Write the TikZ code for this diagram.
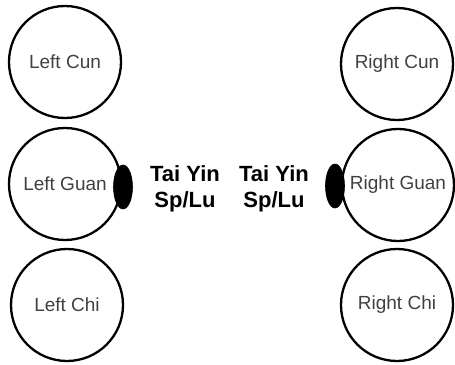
\documentclass[tikz,border=0pt]{standalone}
\usepackage{fontspec}
\setmainfont{Liberation Sans}
\usetikzlibrary{shapes.geometric}
\begin{document}
\begin{tikzpicture}[x=1pt,y=-1pt,
  pulse/.style={circle,draw=black,line width=2.3pt,minimum size=112pt,inner sep=0pt,
    font=\fontsize{19}{22}\selectfont,text=black!75},
  blob/.style={ellipse,fill=black,draw=black,line width=0.6pt,minimum width=19pt,minimum height=44pt,inner sep=0pt},
  taiyin/.style={align=center,font=\bfseries\fontsize{22}{26.5}\selectfont,text=black}]
\useasboundingbox (0,0) rectangle (455,364);
% position nodes (left and right wrist)
\node[pulse] (lcun)  at (65,62)   {Left Cun};
\node[blob]  (lspot) at (123,187) {};
\node[pulse] (lguan) at (65,184)  {Left Guan};
\node[pulse] (lchi)  at (67,305)  {Left Chi};
\node[pulse] (rcun)  at (397,64)  {Right Cun};
\node[blob]  (rspot) at (335,186) {};
\node[pulse] (rguan) at (398,185) {Right Guan};
\node[pulse] (rchi)  at (397,305) {Right Chi};
% Tai Yin labels
\node[taiyin] (ltext) at (185,189) {Tai Yin\\Sp/Lu};
\node[taiyin] (rtext) at (274,189) {Tai Yin\\Sp/Lu};
\end{tikzpicture}
\end{document}
